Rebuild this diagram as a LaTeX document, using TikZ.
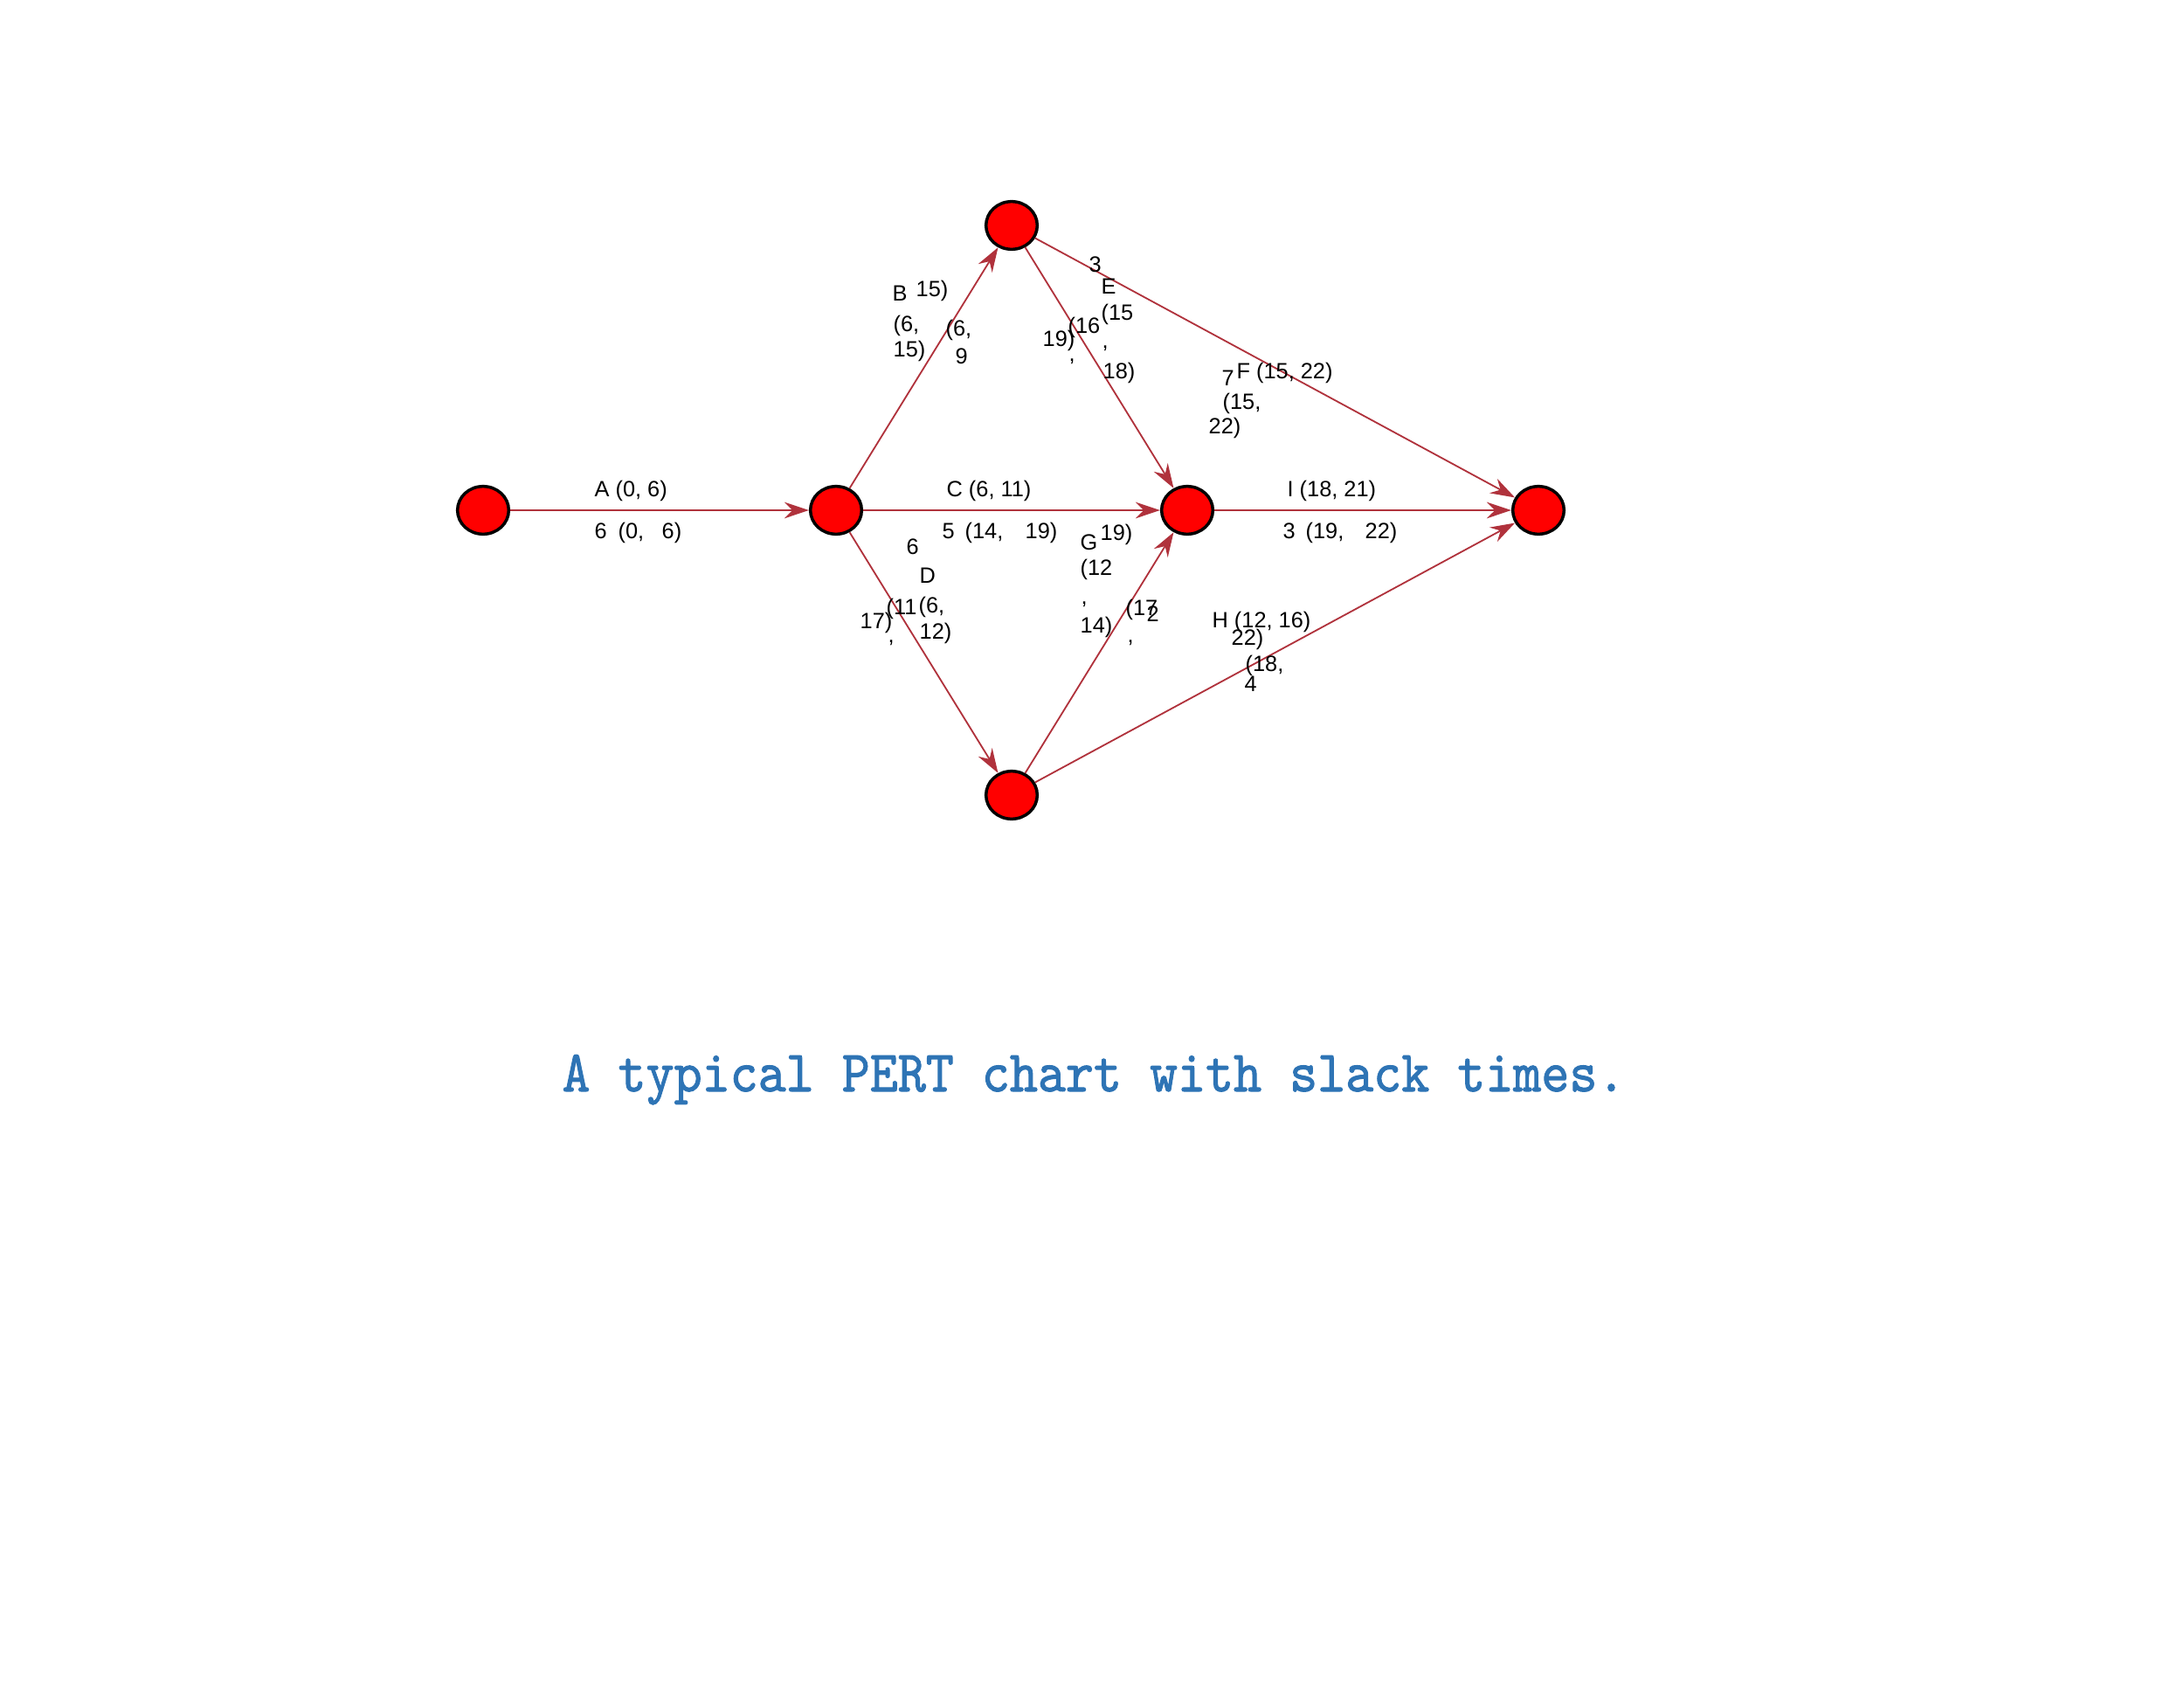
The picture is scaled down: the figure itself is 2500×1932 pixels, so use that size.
\documentclass[tikz,border=0pt]{standalone}
\usepackage{fontspec}
\usepackage{graphicx}
\usetikzlibrary{shapes.geometric,arrows.meta}
\newfontfamily\labfont{Liberation Sans}
\newfontfamily\capfont{lmmono10-regular.otf}[FakeBold=1.5]
\definecolor{edgecol}{RGB}{176,50,60}
\definecolor{capcol}{RGB}{46,116,181}
\tikzset{
  ev/.style={ellipse, draw=black, fill=red, line width=1.05pt,
    minimum width=17.6pt, minimum height=16.4pt, inner sep=0pt},
  edge/.style={draw=edgecol, line width=0.55pt,
    -{Stealth[length=8.4pt,width=5.6pt,inset=2.8pt]}},
  lab/.style={font=\labfont\fontsize{7.6pt}{8.6pt}\selectfont, inner sep=0pt,
    text height=5.4pt, text depth=1.6pt, anchor=west},
  captxt/.style={font=\capfont\fontsize{18.3pt}{22pt}\selectfont, text=capcol,
    inner sep=0pt, anchor=base}
}
\begin{document}
\begin{tikzpicture}[x=0.3pt,y=-0.3pt]
\useasboundingbox (0,0) rectangle (2500,1932);
% events
\node[ev] (n1) at (553,584) {};
\node[ev] (n2) at (957,584) {};
\node[ev] (n3) at (1359,584) {};
\node[ev] (n5) at (1761,584) {};
\node[ev] (nt) at (1158,258) {};
\node[ev] (nb) at (1158,910) {};
% activities
\draw[edge] (n1) -- (n2);
\draw[edge] (n2) -- (nt);
\draw[edge] (n2) -- (n3);
\draw[edge] (n2) -- (nb);
\draw[edge] (nt) -- (n3);
\draw[edge] (nt) -- (n5);
\draw[edge] (nb) -- (n3);
\draw[edge] (nb) -- (n5);
\draw[edge] (n3) -- (n5);
% A
\node[lab] (a1) at (680,562) {A (0, 6)};
\node[lab] (a2) at (680,610) {6};
\node[lab] (a3) at (707,610) {(0,};
\node[lab] (a4) at (757,610) {6)};
% C
\node[lab] (c1) at (1083,562) {C (6, 11)};
\node[lab] (c2) at (1078,610) {5};
\node[lab] (c3) at (1104,610) {(14,};
\node[lab] (c4) at (1173,610) {19)};
% I
\node[lab] (i1) at (1473,562) {I (18, 21)};
\node[lab] (i2) at (1468,610) {3};
\node[lab] (i3) at (1494,610) {(19,};
\node[lab] (i4) at (1562,610) {22)};
% B
\node[lab] (b1) at (1021,338) {B};
\node[lab] (b2) at (1048,333) {15)};
\node[lab] (b3) at (1022,373) {(6,};
\node[lab] (b4) at (1022,402) {15)};
\node[lab] (b5) at (1082,378) {(6,};
\node[lab] (b6) at (1093,410) {9};
% E
\node[lab] (e1) at (1246,305) {3};
\node[lab] (e2) at (1260,330) {E};
\node[lab] (e3) at (1260,360) {(15};
\node[lab] (e4) at (1261,392) {,};
\node[lab] (e5) at (1262,427) {18)};
\node[lab] (e6) at (1193,390) {19)};
\node[lab] (e7) at (1222,375) {(16};
\node[lab] (e8) at (1223,407) {,};
% F
\node[lab] (f1) at (1398,435) {7};
\node[lab] (f2) at (1415,427) {F (15, 22)};
\node[lab] (f3) at (1399,462) {(15,};
\node[lab] (f4) at (1383,490) {22)};
% D
\node[lab] (d1) at (1037,628) {6};
\node[lab] (d2) at (1052,661) {D};
\node[lab] (d3) at (1014,697) {(11};
\node[lab] (d4) at (1051,695) {(6,};
\node[lab] (d5) at (984,713) {17)};
\node[lab] (d6) at (1016,729) {,};
\node[lab] (d7) at (1052,725) {12)};
% G
\node[lab] (g1) at (1236,623) {G};
\node[lab] (g2) at (1259,612) {19)};
\node[lab] (g3) at (1236,652) {(12};
\node[lab] (g4) at (1237,685) {,};
\node[lab] (g5) at (1236,718) {14)};
\node[lab] (g6) at (1288,698) {(17};
\node[lab] (g7) at (1312,705) {2};
\node[lab] (g8) at (1290,729) {,};
% H
\node[lab] (h1) at (1387,712) {H (12, 16)};
\node[lab] (h2) at (1409,732) {22)};
\node[lab] (h3) at (1425,762) {(18,};
\node[lab] (h4) at (1424,785) {4};
% caption
\node[captxt] (cap) at (1252,1249) {\scalebox{1}[1.1]{A typical PERT chart with slack times.}};
\end{tikzpicture}
\end{document}
